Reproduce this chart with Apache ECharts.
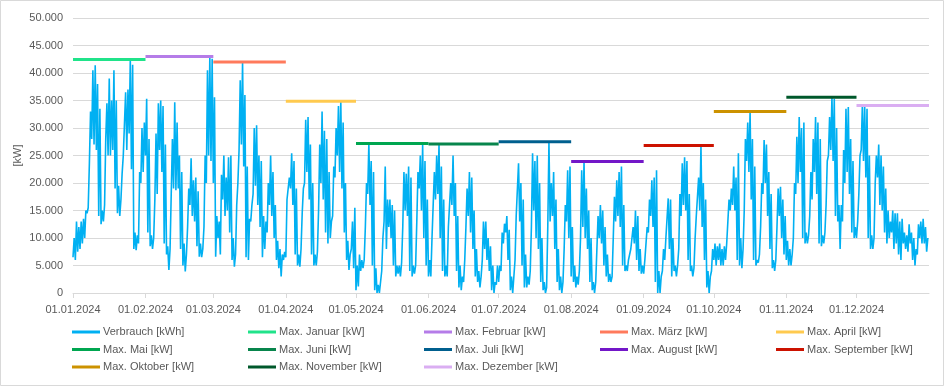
<!DOCTYPE html>
<html>
<head>
<meta charset="utf-8">
<script src="https://cdn.jsdelivr.net/npm/echarts@6/dist/echarts.min.js"></script>
<style>
html,body{margin:0;padding:0;background:#fff;}
#chart{width:945px;height:387px;}
</style>
</head>
<body>
<div id="chart"></div>
<script>
// Verbrauch: per month, alternating night value / day value for each day, in 1.000 kW
const jan = [6.5,10, 6,13, 7.5,12, 8,13, 9,13.5, 10,15, 14.5,15.5, 23.5,33, 28,40.5, 27,41.4, 26,38, 14,33.5, 12.5,15, 13,16, 28,34.5, 25,39, 25,35, 26,40.5, 19,35, 14.5,19.5, 14,17, 21.7,25, 25,36.5, 26,37, 29,42.45, 22.5,41.5, 8,11, 7.8,10.5, 9,22, 20,30, 22,31];
const feb = [25,35.3, 11,28, 8.5,10.5, 8,10, 17,29, 18,34.5, 26,35, 22,34, 9,27, 7,8.5, 4.2,8, 18,28, 19,34.7, 18.7,31, 19,25, 8,22, 5,9, 3.9,7, 12,19, 16,24.5, 14,20.5, 13,21, 8.5,18.5, 6.6,9, 6.5,8, 12,25, 20,40.5, 25,43, 24,42.6];
const mar = [20,35.6, 6.6,14, 10,13, 7,21.5, 17,25, 14,21, 15,24.7, 11,25, 6,10, 4.8,7, 16,20, 26,38.7, 27,42, 23,36, 6.5,23, 6,13.5, 13,16, 18,30, 19.5,30.5, 16,25, 12,24, 6.5,14, 8,13, 11,20, 16,25, 14,22, 10,16, 6,9.5, 4.5,8, 3,7, 6,7.5];
const apr = [6.5,17, 17,21, 19,25.4, 16,24, 7,19, 5,7, 4.8,8, 14.5,19, 20,31.5, 22,32, 17,27, 7,20, 5,7, 5,7.5, 15,27, 20,33, 17,29.5, 11,28, 9,22, 10,13, 14,23, 21,30, 25,34, 22,34.85, 19,31, 11,20, 6,9.5, 4.2,7, 8,13, 4.5,15.5];
const may = [0.5,5, 1.2,7, 4,6, 4.5,6, 12,20, 18,27.2, 16,24, 5,22, 0.5,4.5, 0,1.5, 0,2, 4,10, 13,23, 8,17, 12,17, 10,16, 5,15, 3,5, 3.5,5, 3,5.5, 12,22, 15,21.7, 14,23, 4,21, 3,5, 3.5,5, 13,22, 19,25, 15,27, 10,24, 5,17];
const jun = [3,6, 3,10, 10,22, 17,25, 18,27.1, 10,23, 4,17, 3,5, 3,12, 12,20, 16,25, 14,20, 4,14, 1,5, 0.5,3, 2,6, 12,19, 14,22, 11,21, 8,15, 3,8, 2,4, 1,3, 6,13, 8,13, 6,10, 4,8.5, 0.5,5, 0,2, 1.5,5];
const jul = [2,5, 4,11, 9,12.6, 11,14, 6,11.5, 0.5,3, 0,3, 6,14, 14,23.6, 13,20, 5,17, 1,7, 1,3, 1.5,4, 12,25.4, 15,24, 10,25, 8,20, 2,10, 0.5,2, 0,1, 12,27.5, 13,20, 14,22, 8,17, 2,8, 0.5,3, 0,2, 8,16, 13,22.3, 10,23];
const aug = [3,12, 2,5, 1,3, 1.5,4, 10,22.3, 12,23.9, 10,19, 8,15, 2,10, 0.5,2, 0,2, 8,14, 10,16, 9,15, 5,12, 3,7, 2,3.5, 2,3, 10,17.5, 13,20.5, 14,22, 12,23, 5,16, 4,5, 4,6, 6,8, 8,12, 9,15, 6,14, 4,8, 3.5,5];
const sep = [3.5,6, 6,12, 11,17, 14,20.5, 12,21, 2,22.3, 0,4, 0,3, 4,8, 6,10, 10,17.2, 8,17, 3,10, 4,5, 3,5, 8,18, 14,23.6, 16,24.7, 15,24, 6,18, 4,5, 3,4.5, 10,14, 14,21, 15,26.8, 12,20, 6,17, 1,4, 0,3, 4,8];
const oct = [6,9, 5,8.5, 6,9, 5,8, 5,8.5, 6,9, 13,17, 15,19, 16,23, 15,21, 6,25.4, 5,10, 4.5,8, 15,28, 24,31, 22,33, 17,28, 6,23, 5,6, 5.5,7, 12,20, 18,27.8, 20,27, 14,22, 8,18, 4.5,6, 4,6, 12,19, 14,19.3, 10,17, 7,14];
const nov = [6,9.5, 5,8, 5,7, 10,20, 18,28.4, 20,32, 22,30, 10,31, 9,11, 9,10.5, 14,22, 17,28, 22,32, 18,31, 9,28, 8.5,10.5, 9,11, 16,24, 25,32, 26,35.6, 24,35.3, 14,30, 13,16, 8,16, 13,26, 20,33.5, 22,33.8, 18,28, 11,24, 10,12];
const dec = [10,13, 18,25, 26,34.1, 24,34, 21,33.5, 10,25, 8,10.5, 8,10, 20,25, 21,27, 16,25, 15,23, 11,19, 9,15, 10,13, 11,15, 8,14.5, 9,14.5, 7,13, 6,13.5, 9,11, 8,10.5, 7.5,12.5, 9,11, 6,10, 5,8, 7,12.5, 10,13, 9,13.5, 9,12, 7.5,10];

const monthNames = ['Januar','Februar','März','April','Mai','Juni','Juli','August','September','Oktober','November','Dezember'];
const maxValues = [42450, 43000, 42000, 34850, 27200, 27100, 27500, 23900, 26800, 33000, 35600, 34100];
const maxColors = ['#20E38A','#B57CE8','#FF7A5C','#FFCA4F','#00A650','#08854C','#005F8E','#7317C8','#CC1200','#CC9200','#00582B','#DAAEF2'];
const verbrauchColor = '#00B0F2';

const months = [jan,feb,mar,apr,may,jun,jul,aug,sep,oct,nov,dec];
const verbrauch = [];
months.forEach((arr, m) => {
  for (let i = 0; i < arr.length; i += 2) {
    const day = i / 2 + 1;
    verbrauch.push([new Date(2024, m, day, 0).getTime(), arr[i] * 1000]);
    verbrauch.push([new Date(2024, m, day, 12).getTime(), arr[i + 1] * 1000]);
  }
});

const font = 'Liberation Sans, Arial, sans-serif';
const txt = '#595959';
const grey = '#d9d9d9';
const pad = n => (n < 10 ? '0' : '') + n;
const fmtThousands = v => String(v).replace(/\B(?=(\d{3})+(?!\d))/g, '.');

const series = [{
  name: 'Verbrauch [kWh]', type: 'line', data: verbrauch, showSymbol: false, symbol: 'none',
  lineStyle: { color: verbrauchColor, width: 1.6 }, itemStyle: { color: verbrauchColor },
  sampling: null, z: 2
}];
monthNames.forEach((mn, m) => {
  series.push({
    name: 'Max. ' + mn + ' [kW]', type: 'line', symbol: 'none', showSymbol: false,
    data: [[new Date(2024, m, 1).getTime(), maxValues[m]], [new Date(2024, m + 1, 1).getTime(), maxValues[m]]],
    lineStyle: { color: maxColors[m], width: 3 }, itemStyle: { color: maxColors[m] }, z: 3
  });
});

const legendCols = [
  ['Verbrauch [kWh]', 'Max. Mai [kW]', 'Max. Oktober [kW]'],
  ['Max. Januar [kW]', 'Max. Juni [kW]', 'Max. November [kW]'],
  ['Max. Februar [kW]', 'Max. Juli [kW]', 'Max. Dezember [kW]'],
  ['Max. März [kW]', 'Max. August [kW]'],
  ['Max. April [kW]', 'Max. September [kW]']
];
const legendLeft = [72, 248, 424, 600, 776];
const legends = legendCols.map((names, i) => ({
  orient: 'vertical', left: legendLeft[i], top: 325, itemWidth: 28, itemHeight: 3, itemGap: 3.5,
  icon: 'rect', selectedMode: false, padding: 0,
  textStyle: { color: txt, fontSize: 11, fontFamily: font, lineHeight: 14, padding: [0, 0, 0, -2] },
  data: names
}));

const chart = echarts.init(document.getElementById('chart'), null, { renderer: 'canvas' });
chart.setOption({
  animation: false,
  backgroundColor: '#fff',
  grid: { left: 73, right: 16, top: 18, bottom: 94 },
  legend: legends,
  xAxis: {
    type: 'time',
    min: new Date(2024, 0, 1).getTime(), max: new Date(2025, 0, 1).getTime(),
    splitNumber: 12, minInterval: 28 * 864e5, maxInterval: 31 * 864e5,
    axisLine: { lineStyle: { color: grey, width: 1 } },
    axisTick: { show: true, length: 5, lineStyle: { color: grey } },
    splitLine: { show: false },
    axisLabel: {
      color: txt, fontSize: 11, fontFamily: font, margin: 11, hideOverlap: false,
      formatter: v => { const d = new Date(v); if (d.getFullYear() > 2024) return ''; return pad(d.getDate()) + '.' + pad(d.getMonth() + 1) + '.' + d.getFullYear(); }
    }
  },
  yAxis: {
    type: 'value', min: 0, max: 50000, interval: 5000,
    name: '[kW]', nameLocation: 'middle', nameRotate: 90, nameGap: 50, nameMoveOverlap: false,
    nameTextStyle: { color: txt, fontSize: 11, fontFamily: font },
    axisLine: { show: false }, axisTick: { show: false },
    splitLine: { lineStyle: { color: grey, width: 1 } },
    axisLabel: { color: txt, fontSize: 11, fontFamily: font, margin: 10, formatter: v => fmtThousands(v) }
  },
  graphic: [{ type: 'rect', silent: true, shape: { x: 0.5, y: 0.5, width: 943, height: 385 }, style: { fill: null, stroke: grey, lineWidth: 1 } }],
  series: series
});
</script>
</body>
</html>
